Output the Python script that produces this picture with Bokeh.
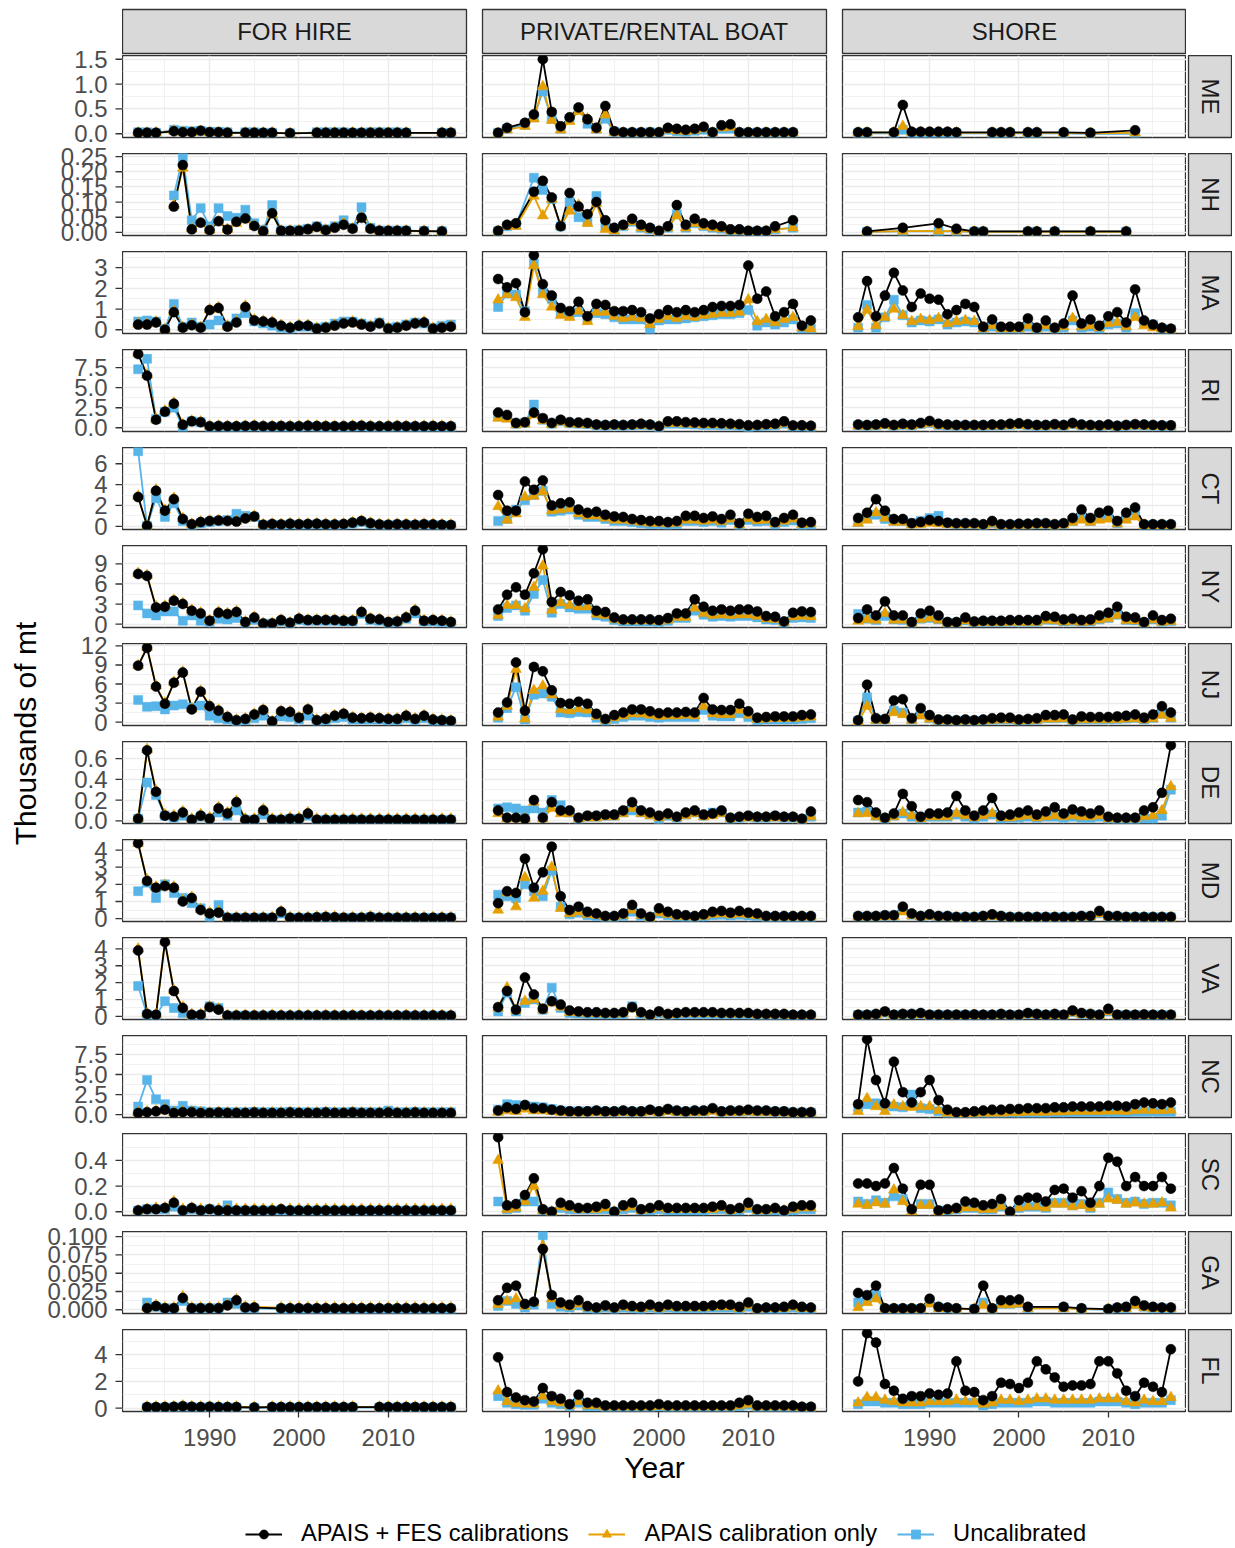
from math import pi
from bokeh.plotting import figure
from bokeh.layouts import row, column
from bokeh.models import Range1d, FixedTicker, Legend, LegendItem, Spacer
from bokeh.core.properties import value
from bokeh.embed import file_html
from bokeh.resources import INLINE

YEARS = list(range(1982, 2018))
MODES = ["FOR HIRE", "PRIVATE/RENTAL BOAT", "SHORE"]
STATES = ["ME", "NH", "MA", "RI", "CT", "NY", "NJ", "DE", "MD", "VA", "NC", "SC", "GA", "FL"]
SERIES = ["APAIS + FES calibrations", "APAIS calibration only", "Uncalibrated"]
X_TICKS = [1990, 2000, 2010]
X_TICK_LABELS = ["1990", "2000", "2010"]
N = None

# ---------------- ME ----------------
ME_FH_FES = [0.02, 0.02, 0.02, N, 0.05, 0.03, 0.03, 0.06, 0.03, 0.03,
             0.02, N, 0.02, 0.02, 0.02, 0.02, N, 0.01, N, N,
             0.02, 0.02, 0.02, 0.02, 0.02, 0.02, 0.02, 0.02, 0.02, 0.02,
             0.02, N, N, N, 0.02, 0.02]
ME_FH_APAIS = [0.02, 0.02, 0.02, N, 0.06, 0.03, 0.03, 0.05, 0.03, 0.03,
               0.02, N, 0.02, 0.02, 0.02, 0.02, N, 0.01, N, N,
               0.02, 0.02, 0.02, 0.02, 0.02, 0.02, 0.02, 0.02, 0.02, 0.02,
               0.02, N, N, N, 0.02, 0.02]
ME_FH_UNCAL = [0.03, 0.03, 0.02, N, 0.08, 0.06, 0.05, 0.06, 0.04, 0.04,
               0.03, N, 0.03, 0.03, 0.02, 0.02, N, 0.01, N, N,
               0.03, 0.03, 0.03, 0.03, 0.02, 0.02, 0.03, 0.03, 0.03, 0.03,
               0.02, N, N, N, 0.02, 0.02]
ME_PR_FES = [0.02, 0.12, N, 0.22, 0.39, 1.50, 0.44, 0.15, 0.33, 0.53,
             0.29, 0.12, 0.56, 0.05, 0.03, 0.03, 0.03, 0.03, 0.03, 0.12,
             0.10, 0.08, 0.10, 0.14, 0.03, 0.17, 0.19, 0.03, 0.03, 0.03,
             0.03, 0.03, 0.03, 0.03, N, N]
ME_PR_APAIS = [0.01, 0.08, N, 0.15, 0.30, 0.95, 0.27, 0.08, 0.25, 0.45,
               0.30, 0.08, 0.38, 0.03, 0.02, 0.02, 0.02, 0.02, 0.02, 0.08,
               0.06, 0.05, 0.07, 0.10, 0.02, 0.12, 0.13, 0.02, 0.02, 0.02,
               0.02, 0.02, 0.02, 0.02, N, N]
ME_PR_UNCAL = [0.02, 0.10, N, 0.18, 0.33, 0.85, 0.30, 0.10, 0.30, 0.50,
               0.20, 0.10, 0.30, 0.04, 0.02, 0.02, 0.02, 0.03, 0.02, 0.08,
               0.05, 0.04, 0.06, 0.08, 0.02, 0.10, 0.10, 0.02, 0.02, 0.02,
               0.02, 0.02, 0.02, 0.02, N, N]
ME_SH_FES = [0.03, 0.03, N, N, 0.03, 0.58, 0.04, 0.04, 0.04, 0.04,
             0.04, 0.03, N, N, N, 0.03, 0.03, 0.03, N, 0.03,
             0.03, N, N, 0.03, N, N, 0.02, N, N, N,
             N, 0.07, N, N, N, N]
ME_SH_APAIS = [0.02, 0.02, N, N, 0.03, 0.15, 0.03, 0.03, 0.03, 0.03,
               0.03, 0.02, N, N, N, 0.02, 0.02, 0.02, N, 0.02,
               0.02, N, N, 0.02, N, N, 0.01, N, N, N,
               N, 0.02, N, N, N, N]
ME_SH_UNCAL = [0.01, 0.01, N, N, 0.01, 0.08, 0.01, 0.01, 0.01, 0.01,
               0.01, 0.01, N, N, N, 0.01, 0.01, 0.01, N, 0.01,
               0.01, N, N, 0.01, N, N, 0.0, N, N, N,
               N, 0.0, N, N, N, N]

# ---------------- NH ----------------
NH_FH_FES = [N, N, N, N, 0.085, 0.222, 0.010, 0.032, 0.007, 0.037,
             0.009, 0.035, 0.046, 0.021, 0.004, 0.063, 0.005, 0.005, 0.005, 0.010,
             0.018, 0.007, 0.015, 0.025, 0.012, 0.048, 0.012, 0.005, 0.005, 0.005,
             0.005, N, 0.004, N, 0.003, N]
NH_FH_APAIS = [N, N, N, N, 0.090, 0.212, 0.012, 0.030, 0.008, 0.035,
               0.010, 0.030, 0.042, 0.020, 0.005, 0.060, 0.005, 0.005, 0.006, 0.010,
               0.016, 0.008, 0.016, 0.030, 0.012, 0.050, 0.012, 0.005, 0.005, 0.005,
               0.005, N, 0.004, N, 0.003, N]
NH_FH_UNCAL = [N, N, N, N, 0.122, 0.248, 0.040, 0.080, 0.020, 0.080,
               0.054, 0.048, 0.075, 0.030, 0.008, 0.090, 0.006, 0.006, 0.008, 0.012,
               0.020, 0.010, 0.020, 0.040, 0.015, 0.083, 0.015, 0.006, 0.006, 0.006,
               0.006, N, 0.005, N, 0.004, N]
NH_PR_FES = [0.005, 0.025, 0.030, N, 0.134, 0.170, 0.115, 0.020, 0.130, 0.085,
             0.060, 0.100, 0.040, 0.015, 0.025, 0.045, 0.025, 0.015, 0.005, 0.020,
             0.090, 0.025, 0.045, 0.030, 0.025, 0.020, 0.010, 0.010, 0.005, 0.005,
             0.005, 0.020, N, 0.040, N, N]
NH_PR_APAIS = [0.003, 0.020, 0.020, N, 0.120, 0.055, 0.110, 0.020, 0.070, 0.090,
               0.030, 0.095, 0.010, 0.005, 0.020, 0.035, 0.015, 0.010, 0.003, 0.015,
               0.055, 0.015, 0.030, 0.020, 0.015, 0.012, 0.005, 0.005, 0.003, 0.003,
               0.003, 0.010, N, 0.015, N, N]
NH_PR_UNCAL = [0.004, 0.020, 0.025, N, 0.180, 0.140, 0.110, 0.020, 0.100, 0.050,
               0.035, 0.120, 0.020, 0.008, 0.020, 0.035, 0.015, 0.010, 0.003, 0.015,
               0.060, 0.015, 0.030, 0.020, 0.015, 0.012, 0.005, 0.005, 0.003, 0.003,
               0.003, 0.010, N, 0.015, N, N]
NH_SH_FES = [N, 0.003, N, N, N, 0.015, N, N, N, 0.030,
             N, 0.012, N, 0.003, 0.003, N, N, N, N, 0.003,
             0.003, N, 0.003, N, N, N, 0.003, N, N, N,
             0.003, N, N, N, N, N]
NH_SH_APAIS = [N, 0.002, N, N, N, 0.004, N, N, N, 0.005,
               N, 0.004, N, 0.002, 0.002, N, N, N, N, 0.002,
               0.002, N, 0.002, N, N, N, 0.002, N, N, N,
               0.002, N, N, N, N, N]
NH_SH_UNCAL = [N, 0.002, N, N, N, 0.003, N, N, N, 0.003,
               N, 0.003, N, 0.002, 0.002, N, N, N, N, 0.002,
               0.002, N, 0.002, N, N, N, 0.002, N, N, N,
               0.002, N, N, N, N, N]

# ---------------- MA ----------------
MA_FH_FES = [0.25, 0.25, 0.35, 0.00, 0.85, 0.10, 0.22, 0.10, 0.95, 1.05,
             0.15, 0.35, 1.10, 0.45, 0.40, 0.35, 0.20, 0.10, 0.20, 0.20,
             0.05, 0.10, 0.20, 0.30, 0.35, 0.25, 0.15, 0.30, 0.05, 0.10,
             0.20, 0.30, 0.35, 0.05, 0.10, 0.15]
MA_FH_APAIS = [0.28, 0.28, 0.38, 0.02, 0.90, 0.12, 0.25, 0.12, 0.98, 1.08,
               0.18, 0.38, 1.15, 0.48, 0.42, 0.38, 0.22, 0.12, 0.22, 0.22,
               0.08, 0.12, 0.22, 0.32, 0.38, 0.28, 0.18, 0.32, 0.08, 0.12,
               0.22, 0.32, 0.38, 0.08, 0.12, 0.18]
MA_FH_UNCAL = [0.40, 0.45, 0.40, 0.05, 1.25, 0.15, 0.35, 0.15, 0.25, 0.45,
               0.20, 0.55, 0.80, 0.40, 0.30, 0.20, 0.10, 0.05, 0.15, 0.15,
               0.10, 0.15, 0.30, 0.40, 0.40, 0.30, 0.20, 0.35, 0.10, 0.15,
               0.25, 0.35, 0.30, 0.10, 0.20, 0.25]
MA_PR_FES = [2.45, 2.05, 2.25, 0.85, 3.60, 2.20, 1.65, 1.05, 0.90, 1.35,
             0.65, 1.25, 1.20, 0.90, 0.90, 0.95, 0.85, 0.55, 0.75, 0.95,
             0.85, 0.95, 0.85, 0.95, 1.10, 1.15, 1.15, 1.20, 3.10, 1.50,
             1.85, 0.65, 0.85, 1.25, 0.20, 0.45]
MA_PR_APAIS = [1.45, 1.70, 1.55, 0.60, 3.10, 1.70, 1.10, 0.70, 0.60, 0.90,
               0.40, 0.85, 0.85, 0.65, 0.55, 0.60, 0.55, 0.25, 0.50, 0.65,
               0.55, 0.65, 0.60, 0.70, 0.75, 0.80, 0.80, 0.85, 1.45, 0.40,
               0.50, 0.35, 0.50, 0.60, 0.10, 0.05]
MA_PR_UNCAL = [1.10, 1.75, 1.70, 0.90, 3.20, 1.80, 1.50, 0.85, 0.70, 0.85,
               0.55, 0.80, 0.75, 0.60, 0.50, 0.50, 0.50, 0.00, 0.45, 0.50,
               0.50, 0.55, 0.60, 0.65, 0.70, 0.75, 0.75, 0.80, 0.95, 0.20,
               0.35, 0.25, 0.35, 0.50, 0.05, 0.05]
MA_SH_FES = [0.60, 2.35, 0.65, 1.65, 2.75, 1.90, 1.10, 1.75, 1.50, 1.45,
             0.75, 0.95, 1.25, 1.10, 0.15, 0.50, 0.15, 0.15, 0.15, 0.55,
             0.10, 0.45, 0.10, 0.30, 1.65, 0.30, 0.50, 0.20, 0.65, 0.85,
             0.35, 1.95, 0.45, 0.25, 0.10, 0.05]
MA_SH_APAIS = [0.15, 0.95, 0.20, 0.60, 1.00, 0.70, 0.40, 0.50, 0.45, 0.55,
               0.30, 0.40, 0.45, 0.40, 0.05, 0.20, 0.05, 0.05, 0.05, 0.20,
               0.05, 0.20, 0.05, 0.15, 0.55, 0.15, 0.20, 0.10, 0.30, 0.35,
               0.15, 0.60, 0.20, 0.10, 0.05, 0.02]
MA_SH_UNCAL = [0.10, 1.20, 0.10, 0.60, 1.45, 0.70, 0.35, 0.45, 0.40, 0.50,
               0.25, 0.35, 0.40, 0.35, 0.05, 0.15, 0.05, 0.05, 0.05, 0.15,
               0.05, 0.15, 0.05, 0.10, 0.45, 0.10, 0.15, 0.05, 0.25, 0.30,
               0.10, 0.80, 0.35, 0.25, 0.05, 0.02]

# ---------------- RI ----------------
RI_FH_FES = [9.20, 6.50, 1.00, 2.00, 3.00, 0.37, 0.80, 0.70, 0.20, 0.22,
             0.20, 0.18, 0.22, 0.25, 0.20, 0.18, 0.22, 0.20, 0.20, 0.25,
             0.22, 0.20, 0.18, 0.20, 0.22, 0.25, 0.20, 0.18, 0.20, 0.22,
             0.20, 0.18, 0.20, 0.22, 0.20, 0.18]
RI_FH_APAIS = [9.30, 6.60, 1.10, 2.10, 3.10, 0.40, 0.85, 0.75, 0.22, 0.24,
               0.22, 0.20, 0.24, 0.27, 0.22, 0.20, 0.24, 0.22, 0.22, 0.27,
               0.24, 0.22, 0.20, 0.22, 0.24, 0.27, 0.22, 0.20, 0.22, 0.24,
               0.22, 0.20, 0.22, 0.24, 0.22, 0.20]
RI_FH_UNCAL = [7.30, 8.60, 1.10, 2.00, 2.50, 0.05, 0.80, 0.70, 0.10, 0.12,
               0.10, 0.10, 0.12, 0.15, 0.10, 0.10, 0.12, 0.10, 0.10, 0.15,
               0.12, 0.10, 0.10, 0.10, 0.12, 0.15, 0.10, 0.10, 0.10, 0.12,
               0.10, 0.10, 0.10, 0.12, 0.10, 0.10]
RI_PR_FES = [1.90, 1.60, 0.60, 0.70, 1.90, 1.20, 0.60, 1.00, 0.70, 0.65,
             0.60, 0.40, 0.35, 0.40, 0.35, 0.40, 0.50, 0.40, 0.20, 0.80,
             0.80, 0.70, 0.65, 0.60, 0.60, 0.55, 0.50, 0.45, 0.30, 0.35,
             0.45, 0.50, 0.80, 0.30, 0.30, 0.25]
RI_PR_APAIS = [1.20, 1.10, 0.40, 0.50, 1.60, 0.90, 0.45, 0.75, 0.50, 0.45,
               0.40, 0.30, 0.25, 0.30, 0.25, 0.30, 0.35, 0.30, 0.15, 0.55,
               0.55, 0.50, 0.45, 0.40, 0.40, 0.40, 0.35, 0.30, 0.20, 0.25,
               0.30, 0.35, 0.55, 0.20, 0.20, 0.15]
RI_PR_UNCAL = [1.40, 1.30, 0.50, 0.60, 2.90, 1.00, 0.50, 0.80, 0.55, 0.50,
               0.45, 0.30, 0.25, 0.30, 0.25, 0.30, 0.35, 0.30, 0.00, 0.50,
               0.50, 0.45, 0.40, 0.35, 0.35, 0.30, 0.30, 0.25, 0.00, 0.20,
               0.25, 0.30, 0.50, 0.15, 0.15, 0.10]
RI_SH_FES = [0.40, 0.35, 0.40, 0.55, 0.35, 0.50, 0.40, 0.60, 0.85, 0.50,
             0.40, 0.35, 0.35, 0.35, 0.35, 0.40, 0.40, 0.50, 0.55, 0.45,
             0.35, 0.35, 0.45, 0.35, 0.60, 0.40, 0.35, 0.30, 0.40, 0.25,
             0.35, 0.45, 0.40, 0.35, 0.30, 0.30]
RI_SH_APAIS = [0.25, 0.22, 0.25, 0.35, 0.22, 0.30, 0.25, 0.40, 0.55, 0.30,
               0.25, 0.22, 0.22, 0.22, 0.22, 0.25, 0.25, 0.30, 0.35, 0.28,
               0.22, 0.22, 0.28, 0.22, 0.40, 0.25, 0.22, 0.20, 0.25, 0.15,
               0.22, 0.28, 0.25, 0.22, 0.20, 0.20]
RI_SH_UNCAL = [0.30, 0.25, 0.30, 0.40, 0.25, 0.35, 0.30, 0.45, 0.60, 0.35,
               0.28, 0.25, 0.25, 0.25, 0.25, 0.28, 0.28, 0.35, 0.40, 0.30,
               0.25, 0.25, 0.30, 0.25, 0.45, 0.28, 0.25, 0.22, 0.28, 0.18,
               0.25, 0.30, 0.28, 0.25, 0.22, 0.22]

# ---------------- CT ----------------
CT_FH_FES = [2.80, 0.05, 3.40, 1.50, 2.60, 0.70, 0.20, 0.40, 0.50, 0.55,
             0.50, 0.45, 0.75, 0.95, 0.15, 0.22, 0.18, 0.25, 0.20, 0.22,
             0.25, 0.20, 0.18, 0.22, 0.35, 0.50, 0.30, 0.18, 0.15, 0.20,
             0.18, 0.15, 0.20, 0.18, 0.15, 0.12]
CT_FH_APAIS = [2.90, 0.06, 3.50, 1.55, 2.70, 0.75, 0.22, 0.42, 0.52, 0.58,
               0.52, 0.48, 0.78, 0.98, 0.17, 0.24, 0.20, 0.27, 0.22, 0.24,
               0.27, 0.22, 0.20, 0.24, 0.37, 0.52, 0.32, 0.20, 0.17, 0.22,
               0.20, 0.17, 0.22, 0.20, 0.17, 0.14]
CT_FH_UNCAL = [7.20, 0.05, 2.70, 0.90, 2.20, 0.50, 0.10, 0.30, 0.40, 0.50,
               0.60, 1.20, 1.00, 0.90, 0.10, 0.15, 0.12, 0.18, 0.15, 0.15,
               0.18, 0.15, 0.12, 0.15, 0.25, 0.40, 0.20, 0.12, 0.10, 0.15,
               0.12, 0.10, 0.15, 0.12, 0.10, 0.08]
CT_PR_FES = [3.00, 1.50, 1.50, 4.30, 3.50, 4.40, 2.00, 2.20, 2.30, 1.60,
             1.30, 1.40, 1.10, 0.95, 0.90, 0.70, 0.60, 0.50, 0.50, 0.40,
             0.50, 1.00, 1.00, 0.80, 0.95, 0.70, 1.10, 0.30, 1.20, 0.90,
             1.00, 0.40, 0.80, 1.10, 0.35, 0.40]
CT_PR_APAIS = [1.90, 0.60, 1.20, 2.80, 2.90, 3.30, 1.50, 1.60, 1.70, 1.20,
               1.00, 1.00, 0.80, 0.60, 0.60, 0.50, 0.40, 0.30, 0.30, 0.25,
               0.30, 0.60, 0.60, 0.50, 0.60, 0.45, 0.70, 0.15, 0.75, 0.55,
               0.60, 0.25, 0.50, 0.70, 0.20, 0.25]
CT_PR_UNCAL = [0.50, 0.70, 1.60, 2.50, 3.00, 3.40, 1.40, 1.50, 1.60, 1.10,
               0.90, 0.90, 0.70, 0.50, 0.50, 0.40, 0.30, 0.20, 0.20, 0.15,
               0.20, 0.50, 0.50, 0.40, 0.50, 0.35, 0.60, 0.10, 0.60, 0.45,
               0.50, 0.15, 0.40, 0.55, 0.10, 0.15]
CT_SH_FES = [0.80, 1.30, 2.60, 1.50, 0.70, 0.70, 0.30, 0.40, 0.60, 0.50,
             0.35, 0.30, 0.30, 0.30, 0.20, 0.50, 0.20, 0.20, 0.25, 0.25,
             0.30, 0.30, 0.20, 0.30, 0.80, 1.60, 0.80, 1.30, 1.50, 0.50,
             1.30, 1.80, 0.20, 0.20, 0.20, 0.20]
CT_SH_APAIS = [0.30, 0.60, 1.30, 0.80, 0.40, 0.40, 0.15, 0.20, 0.30, 0.25,
               0.20, 0.15, 0.15, 0.15, 0.10, 0.25, 0.10, 0.10, 0.12, 0.12,
               0.15, 0.15, 0.10, 0.15, 0.40, 0.60, 0.40, 0.60, 0.70, 0.25,
               0.60, 0.90, 0.10, 0.10, 0.10, 0.10]
CT_SH_UNCAL = [0.40, 0.80, 1.10, 0.70, 0.50, 0.50, 0.30, 0.50, 0.80, 1.00,
               0.30, 0.20, 0.20, 0.20, 0.10, 0.30, 0.10, 0.10, 0.15, 0.15,
               0.20, 0.20, 0.10, 0.20, 0.50, 0.90, 0.50, 0.90, 1.00, 0.30,
               0.90, 1.50, 0.10, 0.10, 0.10, 0.10]

# ---------------- NY ----------------
NY_FH_FES = [7.50, 7.20, 2.50, 2.60, 3.50, 3.00, 2.00, 1.60, 0.50, 1.70,
             1.50, 1.80, 0.30, 1.00, 0.10, 0.10, 0.60, 0.20, 0.80, 0.60,
             0.60, 0.60, 0.60, 0.50, 0.50, 1.80, 0.80, 0.70, 0.30, 0.40,
             1.00, 2.00, 0.50, 0.60, 0.50, 0.30]
NY_FH_APAIS = [7.60, 7.30, 2.60, 2.70, 3.60, 3.10, 2.10, 1.70, 0.55, 1.80,
               1.60, 1.90, 0.35, 1.05, 0.12, 0.12, 0.65, 0.22, 0.85, 0.65,
               0.65, 0.65, 0.65, 0.55, 0.55, 1.85, 0.85, 0.75, 0.35, 0.45,
               1.05, 2.10, 0.55, 0.65, 0.55, 0.35]
NY_FH_UNCAL = [2.80, 1.60, 1.30, 1.90, 1.90, 0.50, 1.30, 0.50, 0.30, 0.80,
               0.70, 0.90, 0.20, 0.60, 0.05, 0.05, 0.40, 0.10, 0.60, 0.50,
               0.50, 0.50, 0.50, 0.40, 0.40, 1.50, 0.60, 0.50, 0.20, 0.30,
               0.80, 1.60, 0.40, 0.40, 0.30, 0.20]
NY_PR_FES = [2.20, 4.40, 5.50, 4.40, 7.60, 11.20, 3.30, 4.80, 4.30, 3.50,
             3.70, 2.00, 1.80, 1.00, 0.70, 0.70, 0.70, 0.70, 0.60, 0.90,
             1.60, 1.60, 3.70, 2.60, 2.00, 2.20, 2.00, 2.20, 2.20, 1.90,
             1.20, 1.10, 0.40, 1.70, 1.90, 1.80]
NY_PR_APAIS = [1.30, 2.80, 2.80, 2.30, 5.50, 8.70, 2.10, 3.20, 2.80, 2.60,
               2.60, 1.50, 1.30, 0.70, 0.50, 0.50, 0.50, 0.50, 0.40, 0.60,
               1.00, 1.00, 2.40, 1.60, 1.30, 1.40, 1.30, 1.40, 1.40, 1.20,
               0.80, 0.70, 0.25, 1.10, 1.20, 1.10]
NY_PR_UNCAL = [1.20, 2.40, 2.80, 2.00, 4.50, 6.60, 1.70, 3.00, 2.50, 2.30,
               2.30, 1.30, 1.10, 0.60, 0.40, 0.40, 0.40, 0.40, 0.30, 0.50,
               0.90, 0.90, 2.00, 1.40, 1.10, 1.20, 1.10, 1.20, 1.20, 1.00,
               0.70, 0.60, 0.20, 0.90, 1.00, 0.90]
NY_SH_FES = [0.90, 2.20, 1.30, 3.40, 1.30, 1.30, 0.30, 1.60, 2.00, 1.30,
             0.30, 0.30, 1.00, 0.40, 0.50, 0.50, 0.50, 0.60, 0.60, 0.60,
             0.60, 1.20, 1.10, 0.70, 0.80, 0.60, 0.70, 1.30, 1.70, 2.60,
             1.10, 1.00, 0.30, 1.30, 0.60, 0.80]
NY_SH_APAIS = [0.45, 0.70, 0.60, 1.60, 0.60, 0.60, 0.15, 0.70, 0.90, 0.60,
               0.15, 0.15, 0.50, 0.20, 0.25, 0.25, 0.25, 0.30, 0.30, 0.30,
               0.30, 0.60, 0.55, 0.35, 0.40, 0.30, 0.35, 0.65, 0.85, 1.30,
               0.55, 0.50, 0.15, 0.65, 0.30, 0.40]
NY_SH_UNCAL = [1.50, 0.80, 0.60, 1.20, 0.70, 0.60, 0.20, 0.80, 0.90, 0.70,
               0.20, 0.20, 0.55, 0.25, 0.30, 0.30, 0.30, 0.35, 0.35, 0.35,
               0.35, 0.65, 0.60, 0.40, 0.45, 0.35, 0.40, 0.70, 0.90, 1.40,
               0.60, 0.55, 0.20, 0.70, 0.35, 0.45]

# ---------------- NJ ----------------
NJ_FH_FES = [8.90, 11.70, 5.60, 2.90, 6.20, 7.80, 2.00, 4.80, 2.50, 1.80,
             0.80, 0.30, 0.50, 1.20, 1.90, 0.10, 1.70, 1.60, 0.70, 2.00,
             0.30, 0.50, 1.00, 1.30, 0.70, 0.60, 0.70, 0.60, 0.50, 0.50,
             1.00, 0.50, 1.00, 0.40, 0.30, 0.20]
NJ_FH_APAIS = [8.90, 11.80, 5.70, 3.00, 6.30, 7.90, 2.10, 4.90, 2.60, 1.90,
               0.85, 0.35, 0.55, 1.25, 1.95, 0.12, 1.75, 1.65, 0.75, 2.05,
               0.35, 0.55, 1.05, 1.35, 0.75, 0.65, 0.75, 0.65, 0.55, 0.55,
               1.05, 0.55, 1.05, 0.45, 0.35, 0.25]
NJ_FH_UNCAL = [3.50, 2.40, 2.50, 2.00, 2.60, 2.80, 2.30, 2.60, 1.00, 0.60,
               0.40, 0.10, 0.30, 0.60, 1.00, 0.05, 0.90, 0.80, 0.40, 1.00,
               0.20, 0.30, 0.60, 0.80, 0.40, 0.40, 0.40, 0.40, 0.30, 0.30,
               0.60, 0.30, 0.60, 0.20, 0.20, 0.10]
NJ_PR_FES = [1.50, 3.10, 9.40, 1.80, 8.70, 8.00, 5.00, 3.00, 2.90, 3.20,
             2.90, 1.30, 0.50, 1.10, 1.50, 2.00, 2.00, 1.70, 1.40, 1.50,
             1.50, 1.60, 1.50, 3.80, 2.00, 1.90, 1.90, 2.90, 1.70, 0.70,
             0.80, 0.90, 0.90, 0.90, 1.10, 1.20]
NJ_PR_APAIS = [0.80, 2.50, 8.30, 0.50, 5.00, 5.70, 4.30, 2.00, 1.80, 2.10,
               1.90, 0.90, 0.30, 0.70, 1.00, 1.30, 1.30, 1.10, 0.90, 1.00,
               1.00, 1.10, 1.00, 2.50, 1.30, 1.20, 1.20, 1.90, 1.10, 0.45,
               0.50, 0.60, 0.60, 0.60, 0.70, 0.80]
NJ_PR_UNCAL = [0.70, 2.20, 5.50, 0.40, 4.30, 4.50, 4.00, 1.50, 1.40, 1.60,
               1.50, 0.70, 0.20, 0.50, 0.80, 1.00, 1.00, 0.80, 0.70, 0.80,
               0.80, 0.80, 0.80, 1.90, 1.00, 0.90, 0.90, 1.40, 0.80, 0.30,
               0.40, 0.40, 0.40, 0.40, 0.50, 0.60]
NJ_SH_FES = [0.30, 5.90, 0.60, 0.50, 3.40, 3.60, 0.60, 2.20, 1.10, 0.40,
             0.40, 0.30, 0.40, 0.30, 0.40, 0.60, 0.70, 0.70, 0.40, 0.50,
             0.60, 1.10, 1.10, 1.20, 0.40, 0.90, 0.80, 0.80, 0.80, 0.90,
             1.00, 1.20, 0.70, 1.20, 2.50, 1.50]
NJ_SH_APAIS = [0.10, 2.50, 0.30, 0.30, 1.50, 1.20, 0.30, 1.00, 0.50, 0.20,
               0.20, 0.15, 0.20, 0.15, 0.20, 0.30, 0.35, 0.35, 0.20, 0.25,
               0.30, 0.50, 0.50, 0.55, 0.20, 0.40, 0.40, 0.40, 0.40, 0.45,
               0.50, 0.55, 0.35, 0.55, 1.10, 0.60]
NJ_SH_UNCAL = [0.20, 3.90, 0.40, 0.40, 1.80, 1.50, 0.40, 1.20, 0.60, 0.25,
               0.25, 0.20, 0.25, 0.20, 0.25, 0.35, 0.40, 0.40, 0.25, 0.30,
               0.35, 0.60, 0.60, 0.65, 0.25, 0.45, 0.45, 0.45, 0.45, 0.50,
               0.55, 0.65, 0.40, 0.65, 1.30, 0.70]

# ---------------- DE ----------------
DE_FH_FES = [0.02, 0.68, 0.28, 0.05, 0.04, 0.08, 0.01, 0.05, 0.02, 0.12,
             0.07, 0.18, 0.01, 0.01, 0.10, 0.01, 0.01, 0.02, 0.02, 0.07,
             0.01, 0.01, 0.01, 0.01, 0.01, 0.01, 0.01, 0.01, 0.01, 0.01,
             0.01, 0.01, 0.01, 0.01, 0.01, 0.01]
DE_FH_APAIS = [0.02, 0.69, 0.29, 0.06, 0.05, 0.09, 0.02, 0.06, 0.03, 0.13,
               0.08, 0.19, 0.02, 0.02, 0.11, 0.02, 0.02, 0.03, 0.03, 0.08,
               0.02, 0.02, 0.02, 0.02, 0.02, 0.02, 0.02, 0.02, 0.02, 0.02,
               0.02, 0.02, 0.02, 0.02, 0.02, 0.02]
DE_FH_UNCAL = [0.02, 0.37, 0.25, 0.05, 0.03, 0.05, 0.01, 0.04, 0.02, 0.08,
               0.05, 0.10, 0.01, 0.01, 0.06, 0.01, 0.01, 0.02, 0.02, 0.05,
               0.01, 0.01, 0.01, 0.01, 0.01, 0.01, 0.01, 0.01, 0.01, 0.01,
               0.01, 0.01, 0.01, 0.01, 0.01, 0.01]
DE_PR_FES = [0.10, 0.03, 0.03, 0.02, 0.20, 0.03, 0.18, 0.10, 0.10, 0.03,
             0.05, 0.05, 0.06, 0.06, 0.10, 0.18, 0.10, 0.08, 0.05, 0.07,
             0.04, 0.08, 0.10, 0.06, 0.07, 0.10, 0.03, 0.04, 0.05, 0.04,
             0.04, 0.05, 0.04, 0.04, 0.02, 0.09]
DE_PR_APAIS = [0.07, 0.02, 0.02, 0.02, 0.18, 0.02, 0.12, 0.07, 0.07, 0.02,
               0.03, 0.03, 0.04, 0.04, 0.07, 0.12, 0.07, 0.05, 0.03, 0.05,
               0.03, 0.05, 0.07, 0.04, 0.05, 0.07, 0.02, 0.03, 0.03, 0.03,
               0.03, 0.03, 0.03, 0.03, 0.01, 0.04]
DE_PR_UNCAL = [0.12, 0.13, 0.12, 0.10, 0.12, 0.08, 0.20, 0.15, 0.08, 0.02,
               0.04, 0.04, 0.05, 0.05, 0.08, 0.10, 0.08, 0.06, 0.01, 0.05,
               0.03, 0.06, 0.08, 0.05, 0.08, 0.08, 0.02, 0.03, 0.04, 0.03,
               0.03, 0.04, 0.03, 0.03, 0.01, 0.04]
DE_SH_FES = [0.20, 0.18, 0.08, 0.03, 0.07, 0.26, 0.14, 0.04, 0.07, 0.07,
             0.08, 0.24, 0.10, 0.05, 0.10, 0.22, 0.05, 0.06, 0.08, 0.10,
             0.06, 0.09, 0.13, 0.07, 0.11, 0.09, 0.07, 0.10, 0.04, 0.03,
             0.03, 0.03, 0.10, 0.13, 0.27, 0.73]
DE_SH_APAIS = [0.07, 0.07, 0.04, 0.02, 0.04, 0.08, 0.05, 0.02, 0.04, 0.04,
               0.04, 0.07, 0.05, 0.03, 0.05, 0.07, 0.03, 0.03, 0.04, 0.05,
               0.03, 0.04, 0.05, 0.04, 0.05, 0.04, 0.04, 0.05, 0.02, 0.02,
               0.02, 0.02, 0.04, 0.05, 0.10, 0.33]
DE_SH_UNCAL = [0.08, 0.09, 0.05, 0.02, 0.05, 0.07, 0.04, 0.02, 0.04, 0.04,
               0.04, 0.06, 0.04, 0.02, 0.04, 0.06, 0.02, 0.03, 0.03, 0.04,
               0.03, 0.04, 0.04, 0.03, 0.04, 0.03, 0.03, 0.04, 0.02, 0.01,
               0.01, 0.01, 0.02, 0.02, 0.05, 0.30]

# ---------------- MD ----------------
MD_FH_FES = [4.40, 2.20, 1.80, 1.90, 1.80, 1.00, 1.20, 0.50, 0.30, 0.35,
             0.05, 0.05, 0.05, 0.05, 0.05, 0.05, 0.40, 0.05, 0.05, 0.05,
             0.08, 0.10, 0.08, 0.05, 0.05, 0.05, 0.10, 0.05, 0.05, 0.05,
             0.05, 0.05, 0.05, 0.05, 0.05, 0.05]
MD_FH_APAIS = [4.40, 2.25, 1.85, 1.95, 1.85, 1.05, 1.25, 0.55, 0.35, 0.40,
               0.07, 0.07, 0.07, 0.07, 0.07, 0.07, 0.42, 0.07, 0.07, 0.07,
               0.10, 0.12, 0.10, 0.07, 0.07, 0.07, 0.12, 0.07, 0.07, 0.07,
               0.07, 0.07, 0.07, 0.07, 0.07, 0.07]
MD_FH_UNCAL = [1.60, 2.10, 1.20, 2.00, 1.50, 1.20, 0.90, 0.60, 0.10, 0.80,
               0.05, 0.05, 0.05, 0.05, 0.05, 0.05, 0.30, 0.05, 0.05, 0.05,
               0.05, 0.08, 0.05, 0.05, 0.05, 0.05, 0.08, 0.05, 0.05, 0.05,
               0.05, 0.05, 0.05, 0.05, 0.05, 0.05]
MD_PR_FES = [0.90, 1.60, 1.50, 3.50, 1.80, 2.70, 4.20, 1.30, 0.50, 0.70,
             0.40, 0.30, 0.15, 0.15, 0.30, 0.80, 0.30, 0.10, 0.60, 0.40,
             0.25, 0.20, 0.15, 0.25, 0.40, 0.45, 0.35, 0.45, 0.35, 0.30,
             0.15, 0.15, 0.15, 0.15, 0.15, 0.15]
MD_PR_APAIS = [0.50, 1.50, 0.70, 2.40, 1.20, 1.60, 3.00, 0.60, 0.30, 0.40,
               0.25, 0.20, 0.10, 0.10, 0.20, 0.50, 0.20, 0.06, 0.35, 0.25,
               0.15, 0.12, 0.10, 0.15, 0.25, 0.28, 0.22, 0.28, 0.22, 0.18,
               0.10, 0.10, 0.10, 0.10, 0.10, 0.10]
MD_PR_UNCAL = [1.40, 1.30, 1.20, 2.00, 1.60, 1.30, 2.80, 0.70, 0.25, 0.35,
               0.20, 0.15, 0.08, 0.08, 0.15, 0.40, 0.15, 0.05, 0.30, 0.20,
               0.12, 0.10, 0.08, 0.12, 0.20, 0.22, 0.18, 0.22, 0.18, 0.15,
               0.08, 0.08, 0.08, 0.08, 0.08, 0.08]
MD_SH_FES = [0.15, 0.15, 0.15, 0.20, 0.20, 0.70, 0.30, 0.15, 0.25, 0.15,
             0.15, 0.10, 0.10, 0.10, 0.15, 0.25, 0.15, 0.10, 0.10, 0.10,
             0.10, 0.10, 0.10, 0.10, 0.10, 0.15, 0.15, 0.45, 0.15, 0.15,
             0.10, 0.10, 0.10, 0.10, 0.10, 0.10]
MD_SH_APAIS = [0.10, 0.10, 0.10, 0.12, 0.12, 0.40, 0.18, 0.10, 0.15, 0.10,
               0.10, 0.06, 0.06, 0.06, 0.10, 0.15, 0.10, 0.06, 0.06, 0.06,
               0.06, 0.06, 0.06, 0.06, 0.06, 0.10, 0.10, 0.28, 0.10, 0.10,
               0.06, 0.06, 0.06, 0.06, 0.06, 0.06]
MD_SH_UNCAL = [0.12, 0.12, 0.12, 0.15, 0.15, 0.50, 0.22, 0.12, 0.18, 0.12,
               0.12, 0.08, 0.08, 0.08, 0.12, 0.18, 0.12, 0.08, 0.08, 0.08,
               0.08, 0.08, 0.08, 0.08, 0.08, 0.12, 0.12, 0.32, 0.12, 0.12,
               0.08, 0.08, 0.08, 0.08, 0.08, 0.08]

# ---------------- VA ----------------
VA_FH_FES = [3.90, 0.15, 0.10, 4.40, 1.50, 0.50, 0.10, 0.10, 0.55, 0.40,
             0.05, 0.05, 0.06, 0.05, 0.05, 0.06, 0.05, 0.05, 0.06, 0.05,
             0.05, 0.06, 0.05, 0.05, 0.06, 0.05, 0.05, 0.06, 0.05, 0.05,
             0.06, 0.05, 0.05, 0.06, 0.05, 0.05]
VA_FH_APAIS = [4.00, 0.17, 0.12, 4.45, 1.55, 0.55, 0.12, 0.12, 0.58, 0.45,
               0.07, 0.07, 0.08, 0.07, 0.07, 0.08, 0.07, 0.07, 0.08, 0.07,
               0.07, 0.08, 0.07, 0.07, 0.08, 0.07, 0.07, 0.08, 0.07, 0.07,
               0.08, 0.07, 0.07, 0.08, 0.07, 0.07]
VA_FH_UNCAL = [1.80, 0.10, 0.05, 0.90, 0.50, 0.20, 0.05, 0.05, 0.60, 0.50,
               0.04, 0.04, 0.05, 0.04, 0.04, 0.05, 0.04, 0.04, 0.05, 0.04,
               0.04, 0.05, 0.04, 0.04, 0.05, 0.04, 0.04, 0.05, 0.04, 0.04,
               0.05, 0.04, 0.04, 0.05, 0.04, 0.04]
VA_PR_FES = [0.55, 1.50, 0.40, 2.30, 1.30, 0.45, 0.90, 0.70, 0.35, 0.30,
             0.25, 0.25, 0.20, 0.20, 0.25, 0.55, 0.25, 0.10, 0.30, 0.15,
             0.20, 0.25, 0.25, 0.25, 0.25, 0.20, 0.20, 0.20, 0.20, 0.15,
             0.15, 0.15, 0.15, 0.10, 0.10, 0.10]
VA_PR_APAIS = [0.50, 1.70, 0.35, 0.90, 1.00, 0.40, 0.80, 0.55, 0.25, 0.22,
               0.18, 0.18, 0.15, 0.15, 0.18, 0.45, 0.18, 0.07, 0.22, 0.10,
               0.15, 0.18, 0.18, 0.18, 0.18, 0.15, 0.15, 0.15, 0.15, 0.10,
               0.10, 0.10, 0.10, 0.07, 0.07, 0.07]
VA_PR_UNCAL = [0.30, 1.40, 0.30, 0.80, 1.00, 0.40, 1.70, 0.50, 0.20, 0.18,
               0.15, 0.15, 0.12, 0.12, 0.15, 0.60, 0.15, 0.05, 0.18, 0.08,
               0.12, 0.15, 0.15, 0.15, 0.15, 0.12, 0.12, 0.12, 0.12, 0.08,
               0.08, 0.08, 0.08, 0.05, 0.05, 0.05]
VA_SH_FES = [0.10, 0.10, 0.15, 0.30, 0.10, 0.15, 0.15, 0.20, 0.10, 0.10,
             0.10, 0.10, 0.10, 0.12, 0.10, 0.10, 0.15, 0.10, 0.10, 0.20,
             0.15, 0.10, 0.15, 0.10, 0.35, 0.20, 0.15, 0.10, 0.45, 0.10,
             0.10, 0.10, 0.12, 0.10, 0.10, 0.10]
VA_SH_APAIS = [0.07, 0.07, 0.10, 0.20, 0.07, 0.10, 0.10, 0.13, 0.07, 0.07,
               0.07, 0.07, 0.07, 0.08, 0.07, 0.07, 0.10, 0.07, 0.07, 0.13,
               0.10, 0.07, 0.10, 0.07, 0.22, 0.13, 0.10, 0.07, 0.28, 0.07,
               0.07, 0.07, 0.08, 0.07, 0.07, 0.07]
VA_SH_UNCAL = [0.08, 0.08, 0.12, 0.22, 0.08, 0.12, 0.12, 0.15, 0.08, 0.08,
               0.08, 0.08, 0.08, 0.09, 0.08, 0.08, 0.12, 0.08, 0.08, 0.15,
               0.12, 0.08, 0.12, 0.08, 0.25, 0.15, 0.12, 0.08, 0.30, 0.08,
               0.08, 0.08, 0.09, 0.08, 0.08, 0.08]

# ---------------- NC ----------------
NC_FH_FES = [0.20, 0.30, 0.40, 0.60, 0.20, 0.30, 0.30, 0.20, 0.20, 0.25,
             0.20, 0.20, 0.20, 0.25, 0.20, 0.20, 0.20, 0.25, 0.20, 0.20,
             0.20, 0.25, 0.20, 0.20, 0.25, 0.20, 0.20, 0.20, 0.25, 0.20,
             0.20, 0.25, 0.20, 0.20, 0.20, 0.20]
NC_FH_APAIS = [0.25, 0.35, 0.45, 0.65, 0.25, 0.35, 0.35, 0.25, 0.25, 0.30,
               0.25, 0.25, 0.25, 0.30, 0.25, 0.25, 0.25, 0.30, 0.25, 0.25,
               0.25, 0.30, 0.25, 0.25, 0.30, 0.25, 0.25, 0.25, 0.30, 0.25,
               0.25, 0.30, 0.25, 0.25, 0.25, 0.25]
NC_FH_UNCAL = [1.00, 4.30, 1.90, 1.30, 0.50, 1.10, 0.50, 0.40, 0.30, 0.30,
               0.30, 0.30, 0.30, 0.35, 0.30, 0.30, 0.30, 0.35, 0.30, 0.30,
               0.30, 0.35, 0.30, 0.30, 0.35, 0.30, 0.30, 0.30, 0.50, 0.30,
               0.30, 0.35, 0.30, 0.30, 0.30, 0.30]
NC_PR_FES = [0.50, 0.90, 0.70, 1.20, 0.80, 0.80, 0.60, 0.50, 0.40, 0.40,
             0.40, 0.50, 0.40, 0.40, 0.50, 0.40, 0.40, 0.60, 0.40, 0.70,
             0.50, 0.40, 0.50, 0.50, 0.80, 0.40, 0.50, 0.50, 0.60, 0.50,
             0.50, 0.40, 0.40, 0.30, 0.30, 0.30]
NC_PR_APAIS = [0.30, 0.50, 0.40, 0.70, 0.50, 0.50, 0.40, 0.30, 0.25, 0.25,
               0.25, 0.30, 0.25, 0.25, 0.30, 0.25, 0.25, 0.35, 0.25, 0.40,
               0.30, 0.25, 0.30, 0.30, 0.45, 0.25, 0.30, 0.30, 0.35, 0.30,
               0.30, 0.25, 0.25, 0.20, 0.20, 0.20]
NC_PR_UNCAL = [0.60, 1.30, 1.20, 1.10, 1.00, 0.90, 0.70, 0.50, 0.40, 0.40,
               0.40, 0.45, 0.35, 0.35, 0.40, 0.35, 0.35, 0.50, 0.35, 0.55,
               0.40, 0.35, 0.40, 0.40, 0.60, 0.35, 0.40, 0.40, 0.45, 0.40,
               0.40, 0.35, 0.35, 0.25, 0.25, 0.25]
NC_SH_FES = [1.30, 9.40, 4.30, 1.40, 6.60, 2.80, 1.50, 2.80, 4.30, 1.80,
             0.60, 0.30, 0.30, 0.40, 0.50, 0.60, 0.60, 0.70, 0.70, 0.80,
             0.80, 0.80, 0.90, 0.90, 1.00, 1.00, 1.00, 1.00, 1.10, 1.10,
             1.00, 1.30, 1.50, 1.40, 1.30, 1.50]
NC_SH_APAIS = [0.40, 2.00, 1.00, 0.40, 1.20, 1.00, 0.90, 1.00, 1.00, 0.50,
               0.20, 0.10, 0.10, 0.15, 0.20, 0.20, 0.20, 0.25, 0.25, 0.30,
               0.30, 0.30, 0.35, 0.35, 0.40, 0.40, 0.40, 0.40, 0.45, 0.45,
               0.40, 0.50, 0.55, 0.50, 0.50, 0.55]
NC_SH_UNCAL = [0.90, 1.30, 1.40, 1.10, 1.00, 0.90, 2.50, 0.80, 0.70, 0.40,
               0.15, 0.10, 0.10, 0.10, 0.15, 0.15, 0.15, 0.20, 0.20, 0.20,
               0.20, 0.20, 0.25, 0.25, 0.30, 0.30, 0.30, 0.30, 0.30, 0.30,
               0.30, 0.35, 0.35, 0.35, 0.35, 0.35]

# ---------------- SC ----------------
SC_FH_FES = [0.01, 0.02, 0.02, 0.03, 0.07, 0.01, 0.03, 0.01, 0.02, 0.01,
             0.01, 0.01, 0.01, 0.01, 0.01, 0.01, 0.02, 0.01, 0.01, 0.01,
             0.01, 0.01, 0.01, 0.01, 0.01, 0.01, 0.01, 0.01, 0.01, 0.01,
             0.01, 0.01, 0.01, 0.01, 0.01, 0.01]
SC_FH_APAIS = [0.01, 0.02, 0.03, 0.03, 0.08, 0.02, 0.03, 0.02, 0.02, 0.02,
               0.02, 0.02, 0.02, 0.02, 0.02, 0.02, 0.02, 0.02, 0.02, 0.02,
               0.02, 0.02, 0.02, 0.02, 0.02, 0.02, 0.02, 0.02, 0.02, 0.02,
               0.02, 0.02, 0.02, 0.02, 0.02, 0.02]
SC_FH_UNCAL = [0.01, 0.02, 0.02, 0.02, 0.04, 0.01, 0.02, 0.01, 0.02, 0.01,
               0.05, 0.01, 0.01, 0.01, 0.01, 0.01, 0.01, 0.01, 0.01, 0.01,
               0.01, 0.01, 0.01, 0.01, 0.01, 0.01, 0.01, 0.01, 0.01, 0.01,
               0.01, 0.01, 0.01, 0.01, 0.01, 0.01]
SC_PR_FES = [0.58, 0.05, 0.06, 0.13, 0.26, 0.02, 0.00, 0.07, 0.05, 0.03,
             0.03, 0.04, 0.06, 0.00, 0.05, 0.07, 0.02, 0.03, 0.05, 0.03,
             0.03, 0.03, 0.03, 0.03, 0.04, 0.05, 0.02, 0.03, 0.07, 0.02,
             0.02, 0.03, 0.01, 0.04, 0.05, 0.05]
SC_PR_APAIS = [0.40, 0.02, 0.03, 0.08, 0.20, 0.01, 0.00, 0.04, 0.03, 0.02,
               0.02, 0.02, 0.03, 0.00, 0.03, 0.04, 0.01, 0.02, 0.03, 0.02,
               0.02, 0.02, 0.02, 0.02, 0.02, 0.03, 0.01, 0.02, 0.04, 0.01,
               0.01, 0.02, 0.01, 0.02, 0.03, 0.03]
SC_PR_UNCAL = [0.08, 0.02, 0.03, 0.08, 0.08, 0.01, 0.00, 0.03, 0.02, 0.02,
               0.02, 0.02, 0.02, 0.00, 0.02, 0.03, 0.01, 0.01, 0.02, 0.01,
               0.01, 0.01, 0.01, 0.01, 0.02, 0.02, 0.01, 0.01, 0.03, 0.01,
               0.01, 0.01, 0.00, 0.01, 0.02, 0.02]
SC_SH_FES = [0.22, 0.22, 0.20, 0.22, 0.34, 0.18, 0.02, 0.21, 0.21, 0.01,
             0.02, 0.03, 0.08, 0.07, 0.05, 0.06, 0.10, 0.00, 0.09, 0.11,
             0.11, 0.08, 0.17, 0.18, 0.11, 0.16, 0.07, 0.20, 0.42, 0.39,
             0.20, 0.27, 0.20, 0.20, 0.27, 0.18]
SC_SH_APAIS = [0.06, 0.05, 0.07, 0.06, 0.17, 0.08, 0.00, 0.05, 0.05, 0.00,
               0.01, 0.02, 0.03, 0.03, 0.02, 0.02, 0.04, 0.00, 0.03, 0.04,
               0.04, 0.03, 0.06, 0.06, 0.04, 0.05, 0.03, 0.06, 0.10, 0.09,
               0.06, 0.07, 0.06, 0.06, 0.07, 0.03]
SC_SH_UNCAL = [0.08, 0.06, 0.09, 0.07, 0.12, 0.10, 0.01, 0.06, 0.06, 0.01,
               0.01, 0.02, 0.03, 0.03, 0.02, 0.02, 0.04, 0.00, 0.03, 0.04,
               0.04, 0.03, 0.07, 0.07, 0.05, 0.06, 0.03, 0.07, 0.15, 0.10,
               0.07, 0.08, 0.06, 0.07, 0.07, 0.05]

# ---------------- GA ----------------
GA_FH_FES = [N, 0.002, 0.005, 0.002, 0.002, 0.016, 0.002, 0.002, 0.002, 0.002,
             0.006, 0.013, 0.003, 0.003, N, N, 0.002, 0.002, 0.002, 0.002,
             0.002, 0.002, 0.002, 0.002, 0.002, 0.002, 0.002, 0.002, 0.002, 0.002,
             0.002, 0.002, 0.002, 0.002, 0.002, 0.002]
GA_FH_APAIS = [N, 0.003, 0.006, 0.003, 0.003, 0.018, 0.003, 0.003, 0.003, 0.003,
               0.007, 0.014, 0.004, 0.004, N, N, 0.003, 0.003, 0.003, 0.003,
               0.003, 0.003, 0.003, 0.003, 0.003, 0.003, 0.003, 0.003, 0.003, 0.003,
               0.003, 0.003, 0.003, 0.003, 0.003, 0.003]
GA_FH_UNCAL = [N, 0.010, 0.004, 0.002, 0.002, 0.012, 0.002, 0.002, 0.002, 0.002,
               0.010, 0.008, 0.002, 0.002, N, N, 0.001, 0.001, 0.001, 0.001,
               0.001, 0.001, 0.001, 0.001, 0.001, 0.001, 0.001, 0.001, 0.001, 0.001,
               0.001, 0.001, 0.001, 0.001, 0.001, 0.001]
GA_PR_FES = [0.013, 0.030, 0.033, 0.008, 0.011, 0.083, 0.020, 0.010, 0.007, 0.013,
             0.005, 0.003, 0.006, 0.003, 0.007, 0.005, 0.004, 0.007, 0.004, 0.007,
             0.005, 0.005, 0.005, 0.005, 0.006, 0.007, 0.007, 0.004, 0.010, 0.002,
             0.003, 0.003, 0.004, 0.007, 0.004, 0.003]
GA_PR_APAIS = [0.007, 0.012, 0.015, 0.005, 0.010, 0.087, 0.015, 0.006, 0.004, 0.008,
               0.003, 0.002, 0.004, 0.002, 0.004, 0.003, 0.002, 0.004, 0.002, 0.004,
               0.003, 0.003, 0.003, 0.003, 0.004, 0.004, 0.004, 0.002, 0.006, 0.001,
               0.002, 0.002, 0.002, 0.004, 0.002, 0.002]
GA_PR_UNCAL = [0.005, 0.012, 0.008, 0.003, 0.007, 0.102, 0.008, 0.004, 0.003, 0.006,
               0.002, 0.001, 0.003, 0.001, 0.003, 0.002, 0.001, 0.003, 0.001, 0.003,
               0.002, 0.002, 0.002, 0.002, 0.003, 0.003, 0.003, 0.001, 0.004, 0.001,
               0.001, 0.001, 0.001, 0.003, 0.001, 0.001]
GA_SH_FES = [0.023, 0.020, 0.033, 0.002, 0.002, 0.002, 0.002, 0.002, 0.015, 0.004,
             0.003, 0.002, N, 0.001, 0.033, 0.002, 0.013, 0.013, 0.014, 0.004,
             N, N, N, 0.004, N, 0.002, N, N, 0.001, 0.003,
             0.004, 0.012, 0.006, 0.004, 0.003, 0.003]
GA_SH_APAIS = [0.003, 0.010, 0.015, 0.001, 0.001, 0.001, 0.001, 0.001, 0.008, 0.002,
               0.002, 0.001, N, 0.001, 0.006, 0.001, 0.007, 0.007, 0.008, 0.002,
               N, N, N, 0.002, N, 0.001, N, N, 0.001, 0.002,
               0.002, 0.006, 0.003, 0.002, 0.002, 0.002]
GA_SH_UNCAL = [0.010, 0.015, 0.020, 0.001, 0.001, 0.001, 0.001, 0.001, 0.010, 0.003,
               0.002, 0.001, N, 0.001, 0.010, 0.001, 0.008, 0.008, 0.009, 0.002,
               N, N, N, 0.003, N, 0.001, N, N, 0.000, 0.002,
               0.002, 0.008, 0.004, 0.002, 0.002, 0.002]

# ---------------- FL ----------------
FL_FH_FES = [N, 0.08, 0.08, 0.08, 0.10, 0.15, 0.10, 0.08, 0.10, 0.08,
             0.08, 0.08, N, 0.05, N, 0.08, 0.08, 0.08, 0.08, 0.08,
             0.08, 0.08, 0.08, 0.08, 0.08, N, N, 0.08, 0.08, 0.08,
             0.08, 0.08, 0.08, 0.08, 0.08, 0.08]
FL_FH_APAIS = [N, 0.10, 0.10, 0.10, 0.12, 0.17, 0.12, 0.10, 0.12, 0.10,
               0.10, 0.10, N, 0.07, N, 0.10, 0.10, 0.10, 0.10, 0.10,
               0.10, 0.10, 0.10, 0.10, 0.10, N, N, 0.10, 0.10, 0.10,
               0.10, 0.10, 0.10, 0.10, 0.10, 0.10]
FL_FH_UNCAL = [N, 0.05, 0.05, 0.05, 0.07, 0.10, 0.07, 0.05, 0.07, 0.05,
               0.05, 0.05, N, 0.03, N, 0.05, 0.05, 0.05, 0.05, 0.05,
               0.05, 0.05, 0.05, 0.05, 0.05, N, N, 0.05, 0.05, 0.05,
               0.05, 0.05, 0.05, 0.05, 0.05, 0.05]
FL_PR_FES = [3.80, 1.20, 0.80, 0.60, 0.50, 1.50, 0.90, 0.70, 0.30, 1.00,
             0.40, 0.40, 0.20, 0.20, 0.20, 0.20, 0.20, 0.20, 0.30, 0.20,
             0.20, 0.20, 0.20, 0.20, 0.20, 0.20, 0.20, 0.40, 0.60, 0.20,
             0.20, 0.20, 0.20, 0.20, 0.10, 0.10]
FL_PR_APAIS = [1.30, 0.50, 0.35, 0.30, 0.30, 0.90, 0.50, 0.40, 0.20, 0.50,
               0.20, 0.20, 0.10, 0.10, 0.10, 0.10, 0.10, 0.10, 0.15, 0.10,
               0.10, 0.10, 0.10, 0.10, 0.10, 0.10, 0.10, 0.20, 0.30, 0.10,
               0.10, 0.10, 0.10, 0.10, 0.05, 0.05]
FL_PR_UNCAL = [0.90, 0.40, 0.30, 0.25, 0.25, 0.70, 0.40, 0.30, 0.15, 0.40,
               0.15, 0.15, 0.08, 0.08, 0.08, 0.08, 0.08, 0.08, 0.12, 0.08,
               0.08, 0.08, 0.08, 0.08, 0.08, 0.08, 0.08, 0.15, 0.25, 0.08,
               0.08, 0.08, 0.08, 0.08, 0.04, 0.04]
FL_SH_FES = [2.00, 5.60, 4.90, 1.80, 1.30, 0.70, 0.90, 0.90, 1.10, 1.00,
             1.10, 3.50, 1.30, 1.20, 0.60, 0.90, 1.90, 1.80, 1.50, 1.90,
             3.50, 2.90, 2.30, 1.60, 1.70, 1.70, 1.80, 3.50, 3.50, 2.60,
             1.30, 0.90, 1.90, 1.60, 1.20, 4.40]
FL_SH_APAIS = [0.40, 0.80, 0.80, 0.60, 0.50, 0.40, 0.40, 0.40, 0.50, 0.50,
               0.50, 0.60, 0.50, 0.50, 0.30, 0.40, 0.60, 0.60, 0.50, 0.60,
               0.70, 0.70, 0.60, 0.60, 0.60, 0.60, 0.60, 0.70, 0.70, 0.70,
               0.50, 0.40, 0.60, 0.50, 0.50, 0.80]
FL_SH_UNCAL = [0.30, 0.50, 0.50, 0.40, 0.40, 0.30, 0.30, 0.30, 0.40, 0.40,
               0.40, 0.40, 0.40, 0.40, 0.20, 0.30, 0.40, 0.40, 0.40, 0.40,
               0.50, 0.50, 0.40, 0.40, 0.40, 0.40, 0.40, 0.50, 0.50, 0.50,
               0.40, 0.30, 0.40, 0.40, 0.40, 0.60]

# y-axis ticks / labels per state row
Y_TICKS = {
    "ME": [0.0, 0.5, 1.0, 1.5], "NH": [0.0, 0.05, 0.10, 0.15, 0.20, 0.25],
    "MA": [0, 1, 2, 3], "RI": [0.0, 2.5, 5.0, 7.5], "CT": [0, 2, 4, 6],
    "NY": [0, 3, 6, 9], "NJ": [0, 3, 6, 9, 12], "DE": [0.0, 0.2, 0.4, 0.6],
    "MD": [0, 1, 2, 3, 4], "VA": [0, 1, 2, 3, 4], "NC": [0.0, 2.5, 5.0, 7.5],
    "SC": [0.0, 0.2, 0.4], "GA": [0.0, 0.025, 0.05, 0.075, 0.1], "FL": [0, 2, 4],
}
Y_TICK_LABELS = {
    "ME": ["0.0", "0.5", "1.0", "1.5"], "NH": ["0.00", "0.05", "0.10", "0.15", "0.20", "0.25"],
    "MA": ["0", "1", "2", "3"], "RI": ["0.0", "2.5", "5.0", "7.5"], "CT": ["0", "2", "4", "6"],
    "NY": ["0", "3", "6", "9"], "NJ": ["0", "3", "6", "9", "12"], "DE": ["0.0", "0.2", "0.4", "0.6"],
    "MD": ["0", "1", "2", "3", "4"], "VA": ["0", "1", "2", "3", "4"], "NC": ["0.0", "2.5", "5.0", "7.5"],
    "SC": ["0.0", "0.2", "0.4"], "GA": ["0.000", "0.025", "0.050", "0.075", "0.100"], "FL": ["0", "2", "4"],
}

PANELS = {
    "ME": [(ME_FH_FES, ME_FH_APAIS, ME_FH_UNCAL), (ME_PR_FES, ME_PR_APAIS, ME_PR_UNCAL), (ME_SH_FES, ME_SH_APAIS, ME_SH_UNCAL)],
    "NH": [(NH_FH_FES, NH_FH_APAIS, NH_FH_UNCAL), (NH_PR_FES, NH_PR_APAIS, NH_PR_UNCAL), (NH_SH_FES, NH_SH_APAIS, NH_SH_UNCAL)],
    "MA": [(MA_FH_FES, MA_FH_APAIS, MA_FH_UNCAL), (MA_PR_FES, MA_PR_APAIS, MA_PR_UNCAL), (MA_SH_FES, MA_SH_APAIS, MA_SH_UNCAL)],
    "RI": [(RI_FH_FES, RI_FH_APAIS, RI_FH_UNCAL), (RI_PR_FES, RI_PR_APAIS, RI_PR_UNCAL), (RI_SH_FES, RI_SH_APAIS, RI_SH_UNCAL)],
    "CT": [(CT_FH_FES, CT_FH_APAIS, CT_FH_UNCAL), (CT_PR_FES, CT_PR_APAIS, CT_PR_UNCAL), (CT_SH_FES, CT_SH_APAIS, CT_SH_UNCAL)],
    "NY": [(NY_FH_FES, NY_FH_APAIS, NY_FH_UNCAL), (NY_PR_FES, NY_PR_APAIS, NY_PR_UNCAL), (NY_SH_FES, NY_SH_APAIS, NY_SH_UNCAL)],
    "NJ": [(NJ_FH_FES, NJ_FH_APAIS, NJ_FH_UNCAL), (NJ_PR_FES, NJ_PR_APAIS, NJ_PR_UNCAL), (NJ_SH_FES, NJ_SH_APAIS, NJ_SH_UNCAL)],
    "DE": [(DE_FH_FES, DE_FH_APAIS, DE_FH_UNCAL), (DE_PR_FES, DE_PR_APAIS, DE_PR_UNCAL), (DE_SH_FES, DE_SH_APAIS, DE_SH_UNCAL)],
    "MD": [(MD_FH_FES, MD_FH_APAIS, MD_FH_UNCAL), (MD_PR_FES, MD_PR_APAIS, MD_PR_UNCAL), (MD_SH_FES, MD_SH_APAIS, MD_SH_UNCAL)],
    "VA": [(VA_FH_FES, VA_FH_APAIS, VA_FH_UNCAL), (VA_PR_FES, VA_PR_APAIS, VA_PR_UNCAL), (VA_SH_FES, VA_SH_APAIS, VA_SH_UNCAL)],
    "NC": [(NC_FH_FES, NC_FH_APAIS, NC_FH_UNCAL), (NC_PR_FES, NC_PR_APAIS, NC_PR_UNCAL), (NC_SH_FES, NC_SH_APAIS, NC_SH_UNCAL)],
    "SC": [(SC_FH_FES, SC_FH_APAIS, SC_FH_UNCAL), (SC_PR_FES, SC_PR_APAIS, SC_PR_UNCAL), (SC_SH_FES, SC_SH_APAIS, SC_SH_UNCAL)],
    "GA": [(GA_FH_FES, GA_FH_APAIS, GA_FH_UNCAL), (GA_PR_FES, GA_PR_APAIS, GA_PR_UNCAL), (GA_SH_FES, GA_SH_APAIS, GA_SH_UNCAL)],
    "FL": [(FL_FH_FES, FL_FH_APAIS, FL_FH_UNCAL), (FL_PR_FES, FL_PR_APAIS, FL_PR_UNCAL), (FL_SH_FES, FL_SH_APAIS, FL_SH_UNCAL)],
}

for st in STATES:
    for trip in PANELS[st]:
        for s in trip:
            assert len(s) == len(YEARS), (st, len(s))

# ---------------- styling ----------------
FONT = "Liberation Sans"
TXT = "24px"
LEG_TXT = "23.7px"
TITLE = "30px"
COLORS = ["#000000", "#E69F00", "#56B4E9"]
MARKERS = ["circle", "triangle", "square"]
SIZES = [10, 11, 9]
STRIP_FILL = "#D9D9D9"
BORDER = "#333333"
GRID = "#EBEBEB"
FRAME_W, FRAME_H = 344, 82
GAP = 16
TOP_H = 55          # height of the strip row (strip frame 9..53)
LAST_BOTTOM = 80    # space under the last row for the x axis
LEFT_W = 122        # width of the y-title + y-axis column
TOTAL_H = 1547

XR = Range1d(YEARS[0] - 0.05 * (YEARS[-1] - YEARS[0]), YEARS[-1] + 0.05 * (YEARS[-1] - YEARS[0]))
X_MINOR = [1985, 1995, 2005, 2015]


def row_limits(st):
    vals = [v for trip in PANELS[st] for s in trip for v in s if v is not None]
    lo, hi = min(vals), max(vals)
    pad = 0.05 * (hi - lo)
    return lo - pad, hi + pad


def minor_of(ticks):
    step = ticks[1] - ticks[0]
    return [t + step / 2 for t in ticks] + [ticks[0] - step / 2]


def blank_fig(**kw):
    p = figure(output_backend="svg", toolbar_location=None,
               x_axis_location=None, y_axis_location=None, **kw)
    p.grid.visible = False
    return p


def make_panel(ri, ci, st, yr):
    last = ri == len(STATES) - 1
    p = figure(frame_width=FRAME_W, frame_height=FRAME_H, x_range=XR, y_range=yr,
               output_backend="svg", toolbar_location=None,
               x_axis_location="below" if last else None, y_axis_location=None,
               min_border_top=0, min_border_bottom=LAST_BOTTOM if last else GAP,
               min_border_left=0 if ci == 0 else 8,
               min_border_right=8 if ci < 2 else 0)
    p.outline_line_color = BORDER
    p.outline_line_width = 1.3
    p.background_fill_color = "white"
    p.border_fill_color = "white"
    ticks = Y_TICKS[st]
    p.xgrid.ticker = FixedTicker(ticks=X_TICKS, minor_ticks=X_MINOR)
    p.ygrid.ticker = FixedTicker(ticks=ticks, minor_ticks=minor_of(ticks))
    p.grid.grid_line_color = GRID
    p.grid.grid_line_width = 1.4
    p.grid.minor_grid_line_color = GRID
    p.grid.minor_grid_line_width = 0.7
    if last:
        ax = p.xaxis[0]
        ax.ticker = FixedTicker(ticks=X_TICKS)
        ax.major_label_overrides = {t: l for t, l in zip(X_TICKS, X_TICK_LABELS)}
        ax.major_label_standoff = 11
        ax.axis_line_color = None
        ax.major_tick_line_color = BORDER
        ax.major_tick_line_width = 1.3
        ax.major_tick_out = 6
        ax.major_tick_in = 0
        ax.minor_tick_line_color = None
        ax.major_label_text_color = "#4D4D4D"
        ax.major_label_text_font = FONT
        ax.major_label_text_font_size = TXT
        if ci == 1:
            ax.axis_label = "Year"
            ax.axis_label_text_font = FONT
            ax.axis_label_text_font_size = TITLE
            ax.axis_label_text_font_style = "normal"
            ax.axis_label_text_color = "black"
            ax.axis_label_standoff = 2
    series = PANELS[st][ci]
    pts = []
    for k in (2, 1, 0):
        xs = [y for y, v in zip(YEARS, series[k]) if v is not None]
        vs = [v for v in series[k] if v is not None]
        pts.append((k, xs, vs))
        p.line(xs, vs, line_color=COLORS[k], line_width=1.8)
    for k, xs, vs in pts:
        p.scatter(xs, vs, marker=MARKERS[k], size=SIZES[k], fill_color=COLORS[k],
                  line_color=COLORS[k], line_width=0.5)
    return p


def top_strip(label, left, right):
    p = blank_fig(frame_width=FRAME_W, frame_height=44, x_range=Range1d(0, 1), y_range=Range1d(0, 1),
                  min_border_left=left, min_border_right=right, min_border_top=9,
                  min_border_bottom=TOP_H - 9 - 44)
    p.background_fill_color = STRIP_FILL
    p.border_fill_color = "white"
    p.outline_line_color = BORDER
    p.outline_line_width = 1.3
    p.text(x=[0.5], y=[0.5], text=[label], text_align="center", text_baseline="middle",
           text_font=value(FONT), text_font_size=TXT, text_color="#1A1A1A")
    return p


def right_strip(label, last):
    p = blank_fig(frame_width=44, frame_height=FRAME_H, x_range=Range1d(0, 1), y_range=Range1d(0, 1),
                  min_border_left=2, min_border_right=0, min_border_top=0,
                  min_border_bottom=LAST_BOTTOM if last else GAP)
    p.background_fill_color = STRIP_FILL
    p.border_fill_color = "white"
    p.outline_line_color = BORDER
    p.outline_line_width = 1.3
    p.text(x=[0.5], y=[0.5], text=[label], angle=-pi / 2, text_align="center", text_baseline="middle",
           text_font=value(FONT), text_font_size=TXT, text_color="#1A1A1A")
    return p


top = row(top_strip(MODES[0], 0, 8), top_strip(MODES[1], 8, 8), top_strip(MODES[2], 8, 0),
          Spacer(width=46, height=TOP_H))

main_h = TOP_H + (len(STATES) - 1) * (FRAME_H + GAP) + FRAME_H + LAST_BOTTOM

# left column: y title and, for every state row, its y ticks and labels, mapped through
# a per-row scale that coincides with that row's panel scale
left = blank_fig(width=LEFT_W, height=main_h, x_range=Range1d(0, LEFT_W), y_range=Range1d(0, main_h),
                 min_border=0)
left.outline_line_color = None
left.text(x=[25], y=[main_h - 733], text=["Thousands of mt"], angle=pi / 2,
          text_align="center", text_baseline="middle", text_font=value(FONT),
          text_font_size=TITLE, text_color="black")

panel_rows = []
for ri, st in enumerate(STATES):
    lo, hi = row_limits(st)
    yr = Range1d(lo, hi)
    figs = [make_panel(ri, ci, st, yr) for ci in range(3)]
    figs.append(right_strip(st, ri == len(STATES) - 1))
    panel_rows.append(row(*figs))

    s0 = TOP_H + ri * (FRAME_H + GAP)          # frame top, px from the top
    s1 = s0 + FRAME_H                            # frame bottom
    k = (hi - lo) / FRAME_H
    left.extra_y_ranges[st] = Range1d(lo - (main_h - s1) * k, hi + s0 * k)
    ticks = Y_TICKS[st]
    left.segment(x0=[LEFT_W - 7] * len(ticks), y0=ticks, x1=[LEFT_W] * len(ticks), y1=ticks,
                 y_range_name=st, line_color=BORDER, line_width=1.3)
    left.text(x=[LEFT_W - 15] * len(ticks), y=ticks, text=Y_TICK_LABELS[st], y_range_name=st,
              text_align="right", text_baseline="middle", text_font=value(FONT),
              text_font_size=TXT, text_color="#4D4D4D")

total_w = LEFT_W + (FRAME_W + 8) + (FRAME_W + 16) + (FRAME_W + 8) + 46
leg_h = TOTAL_H - main_h
leg = blank_fig(width=total_w, height=leg_h, x_range=Range1d(0, 1), y_range=Range1d(0, 1), min_border=0)
leg.outline_line_color = None
items = []
for k in range(3):
    # off-range placeholder so the legend glyph has style values to draw with
    rl = leg.line(x=[-10, -9], y=[-10, -10], line_color=COLORS[k], line_width=1.8)
    rs = leg.scatter(x=[-10], y=[-10], marker=MARKERS[k], size=SIZES[k], fill_color=COLORS[k],
                     line_color=COLORS[k])
    items.append(LegendItem(label=SERIES[k], renderers=[rl, rs]))
legend = Legend(items=items, orientation="horizontal", location=(245, 0),
                glyph_width=37, glyph_height=22, label_standoff=19, spacing=20,
                padding=0, margin=0, border_line_color=None, background_fill_alpha=0,
                label_text_font=FONT, label_text_font_size=LEG_TXT, label_text_color="black",
                label_height=22)
leg.add_layout(legend)

layout = column(row(left, column(top, *panel_rows)), leg)

open("out.html", "w").write(file_html(layout, INLINE))
